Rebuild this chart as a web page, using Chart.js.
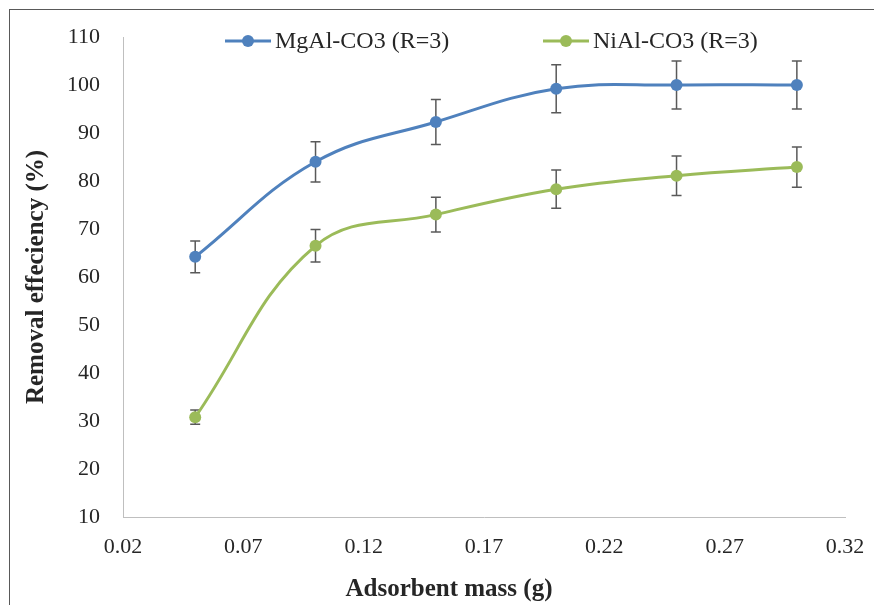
<!DOCTYPE html>
<html>
<head>
<meta charset="utf-8">
<script src="https://cdn.jsdelivr.net/npm/chart.js@4.4.1/dist/chart.umd.min.js"></script>
<style>
html, body { margin: 0; padding: 0; background: #fff; }
</style>
</head>
<body>
<canvas id="chart" width="874" height="605"></canvas>
<script>
const mass = [0.05, 0.10, 0.15, 0.20, 0.25, 0.30]
const mgal = [64.2, 84.0, 92.3, 99.2, 100.0, 100.0]
const mgal_err = [3.3, 4.2, 4.7, 5.0, 5.0, 5.0]
const nial = [30.8, 66.5, 73.0, 78.3, 81.1, 82.9]
const nial_err = [1.5, 3.4, 3.6, 4.0, 4.1, 4.2]
const x_ticks = [0.02, 0.07, 0.12, 0.17, 0.22, 0.27, 0.32]
const y_ticks = [10, 20, 30, 40, 50, 60, 70, 80, 90, 100, 110]
const series_names = [`MgAl-CO3 (R=3)`, `NiAl-CO3 (R=3)`]
const series_colors = [`#4f81bd`, `#9bbb59`]
const x_title = `Adsorbent mass (g)`
const y_title = `Removal effeciency (%)`

const font_family = `"Liberation Serif", "Times New Roman", serif`
const text_color = `#262626`

// outer frame like the pasted excel picture
const frame = {
    id: `frame`,
    beforeDraw(chart) {
        const ctx = chart.ctx
        ctx.save()
        ctx.fillStyle = `#fff`
        ctx.fillRect(0, 0, chart.width, chart.height)
        ctx.strokeStyle = `#595959`
        ctx.lineWidth = 1
        ctx.strokeRect(9.5, 9.5, chart.width + 50, chart.height + 50)
        ctx.restore()
    }
}

const errorBars = {
    id: `errorBars`,
    beforeDatasetsDraw(chart) {
        const ctx = chart.ctx
        const x = chart.scales.x
        const y = chart.scales.y
        ctx.save()
        ctx.strokeStyle = `#595959`
        ctx.lineWidth = 1.5
        chart.data.datasets.forEach((ds) => {
            ds.data.forEach((p, i) => {
                const px = x.getPixelForValue(p.x)
                const top = y.getPixelForValue(p.y + ds.errors[i])
                const bot = y.getPixelForValue(p.y - ds.errors[i])
                ctx.beginPath()
                ctx.moveTo(px, top)
                ctx.lineTo(px, bot)
                ctx.moveTo(px - 5, top)
                ctx.lineTo(px + 5, top)
                ctx.moveTo(px - 5, bot)
                ctx.lineTo(px + 5, bot)
                ctx.stroke()
            })
        })
        ctx.restore()
    }
}

// legend sits inside the plot, on top like excel does it
const legendItems = {
    id: `legendItems`,
    afterDraw(chart) {
        const ctx = chart.ctx
        const starts = [225, 543]
        const ly = 41
        ctx.save()
        ctx.font = `24px ${font_family}`
        ctx.textBaseline = `middle`
        chart.data.datasets.forEach((ds, i) => {
            const lx = starts[i]
            ctx.strokeStyle = ds.borderColor
            ctx.lineWidth = 3
            ctx.beginPath()
            ctx.moveTo(lx, ly)
            ctx.lineTo(lx + 46, ly)
            ctx.stroke()
            ctx.fillStyle = ds.borderColor
            ctx.beginPath()
            ctx.arc(lx + 23, ly, 6, 0, Math.PI * 2)
            ctx.fill()
            ctx.fillStyle = text_color
            ctx.fillText(ds.label, lx + 50, ly + 1)
        })
        ctx.restore()
    }
}

// x title is not centred on the plot in the original, so draw it here
const xTitle = {
    id: `xTitle`,
    afterDraw(chart) {
        const ctx = chart.ctx
        ctx.save()
        ctx.font = `bold 25px ${font_family}`
        ctx.fillStyle = text_color
        ctx.textAlign = `center`
        ctx.textBaseline = `middle`
        ctx.fillText(x_title, 449, 590)
        ctx.restore()
    }
}

const make_set = (i, values, errors) => ({
    label: series_names[i],
    data: mass.map((m, k) => ({ x: m, y: values[k] })),
    errors: errors,
    borderColor: series_colors[i],
    backgroundColor: series_colors[i],
    pointBackgroundColor: series_colors[i],
    pointBorderWidth: 0,
    pointRadius: 6,
    borderWidth: 3,
    tension: 0.4,
    fill: false
})

const chart = new Chart(document.getElementById(`chart`).getContext(`2d`), {
    type: `line`,
    data: {
        datasets: [make_set(0, mgal, mgal_err), make_set(1, nial, nial_err)]
    },
    plugins: [frame, errorBars, legendItems, xTitle],
    options: {
        responsive: false,
        animation: false,
        devicePixelRatio: 1,
        layout: { padding: { left: 10, right: 29, top: 37, bottom: 0 } },
        plugins: {
            legend: { display: false },
            tooltip: { enabled: false }
        },
        scales: {
            x: {
                type: `linear`,
                min: 0.02,
                max: 0.32,
                afterBuildTicks: (s) => { s.ticks = x_ticks.map(v => ({ value: v })) },
                afterFit: (s) => { s.height = 88; s.paddingLeft = 0; s.paddingRight = 0 },
                grid: { display: false, drawTicks: false },
                border: { display: true, color: `#bfbfbf`, width: 1 },
                ticks: {
                    callback: (v) => Number(v).toFixed(2),
                    font: { family: font_family, size: 22 },
                    color: text_color,
                    padding: 17,
                    maxRotation: 0,
                    autoSkip: false
                },
                title: { display: false }
            },
            y: {
                min: 10,
                max: 110,
                afterBuildTicks: (s) => { s.ticks = y_ticks.map(v => ({ value: v })) },
                afterFit: (s) => { s.width = 113; s.paddingTop = 0; s.paddingBottom = 0 },
                grid: { display: false, drawTicks: false },
                border: { display: true, color: `#bfbfbf`, width: 1 },
                ticks: {
                    font: { family: font_family, size: 22 },
                    color: text_color,
                    padding: 23
                },
                title: {
                    display: true,
                    text: y_title,
                    font: { family: font_family, size: 25, weight: `bold` },
                    color: text_color,
                    padding: { top: 12, bottom: 0 }
                }
            }
        }
    }
})
</script>
</body>
</html>
